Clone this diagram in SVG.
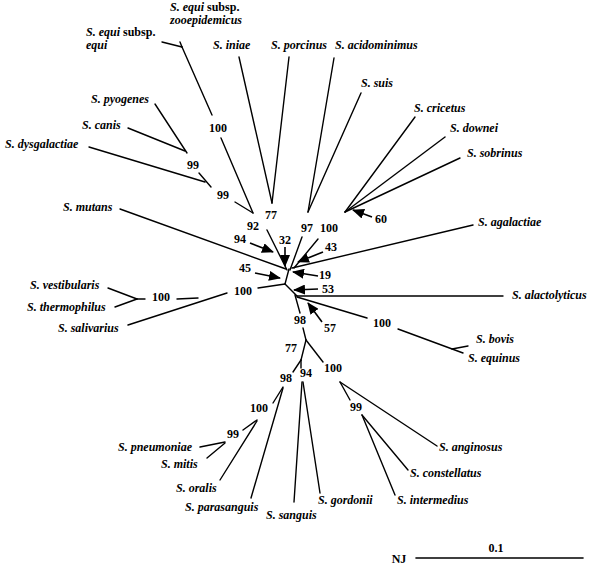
<svg xmlns="http://www.w3.org/2000/svg" width="595" height="574" viewBox="0 0 595 574">
<defs>
<style>
.t{font-family:"Liberation Serif","Times New Roman",serif;font-size:12px;font-weight:bold;font-style:italic;fill:#000}
.n{font-family:"Liberation Serif","Times New Roman",serif;font-size:12px;font-weight:bold;fill:#000;text-anchor:middle}
.r{font-style:normal}
.e line{stroke:#000;stroke-width:1.4;stroke-linecap:round}
.a line{stroke:#000;stroke-width:1.6;marker-end:url(#ah)}
</style>
<marker id="ah" markerUnits="userSpaceOnUse" markerWidth="12" markerHeight="10" viewBox="0 0 12 10" refX="11" refY="5" orient="auto">
<path d="M0,0 L12,5 L0,10 z" fill="#000"/>
</marker>
</defs>
<rect width="595" height="574" fill="#fff"/>
<g id="edges" class="e">
<line x1="180" y1="42" x2="182" y2="47"/>
<line x1="162" y1="42" x2="182" y2="47"/>
<line x1="182" y1="47" x2="212" y2="115"/>
<line x1="221" y1="138" x2="253" y2="213"/>
<line x1="155" y1="104" x2="187" y2="153"/>
<line x1="128" y1="128" x2="185" y2="151"/>
<line x1="199" y1="173" x2="211" y2="187"/>
<line x1="89" y1="147" x2="205" y2="182"/>
<line x1="235" y1="202" x2="253" y2="213"/>
<line x1="267" y1="230" x2="287" y2="270"/>
<line x1="239" y1="57" x2="272" y2="203"/>
<line x1="289" y1="57" x2="272" y2="203"/>
<line x1="120" y1="209" x2="286" y2="269"/>
<line x1="334" y1="58" x2="308" y2="212"/>
<line x1="361" y1="93" x2="308" y2="212"/>
<line x1="302" y1="237" x2="290" y2="270"/>
<line x1="415" y1="117" x2="345" y2="212"/>
<line x1="445" y1="137" x2="345" y2="212"/>
<line x1="460" y1="158" x2="345" y2="212"/>
<line x1="318" y1="239" x2="294" y2="268"/>
<line x1="292" y1="268" x2="473" y2="225"/>
<line x1="289" y1="269" x2="285" y2="284"/>
<line x1="258" y1="288" x2="285" y2="284"/>
<line x1="285" y1="284" x2="297" y2="296"/>
<line x1="297" y1="296" x2="503" y2="296"/>
<line x1="297" y1="297" x2="367" y2="318"/>
<line x1="398" y1="329" x2="463" y2="353"/>
<line x1="452" y1="349" x2="468" y2="346"/>
<line x1="295" y1="295" x2="300" y2="313"/>
<line x1="303" y1="328" x2="306" y2="340"/>
<line x1="306" y1="340" x2="323" y2="362"/>
<line x1="306" y1="340" x2="301" y2="360"/>
<line x1="301" y1="360" x2="293" y2="372"/>
<line x1="301" y1="360" x2="301" y2="368"/>
<line x1="283" y1="387" x2="273" y2="403"/>
<line x1="283" y1="388" x2="251" y2="498"/>
<line x1="257" y1="420" x2="243" y2="430"/>
<line x1="257" y1="421" x2="220" y2="480"/>
<line x1="200" y1="447" x2="225" y2="442"/>
<line x1="207" y1="458" x2="225" y2="443"/>
<line x1="302" y1="382" x2="294" y2="502"/>
<line x1="303" y1="382" x2="320" y2="493"/>
<line x1="340" y1="382" x2="437" y2="446"/>
<line x1="340" y1="382" x2="350" y2="400"/>
<line x1="362" y1="415" x2="408" y2="470"/>
<line x1="362" y1="415" x2="395" y2="495"/>
<line x1="108" y1="288" x2="137" y2="299"/>
<line x1="115" y1="307" x2="137" y2="299"/>
<line x1="137" y1="299" x2="145" y2="299"/>
<line x1="177" y1="299" x2="198" y2="298"/>
<line x1="128" y1="325" x2="227" y2="293"/>
<line x1="416" y1="558" x2="583" y2="558" style="stroke-width:1.6"/>
</g>
<g id="arrows" class="a">
<line x1="372" y1="217" x2="353" y2="210"/>
<line x1="250" y1="243" x2="273" y2="252"/>
<line x1="285" y1="247" x2="285" y2="266"/>
<line x1="323" y1="252" x2="298" y2="262"/>
<line x1="255" y1="273" x2="280" y2="278"/>
<line x1="318" y1="276" x2="293" y2="272"/>
<line x1="318" y1="289" x2="294" y2="290"/>
<line x1="322" y1="322" x2="308" y2="303"/>
</g>
<g id="taxa">
<text id="zooepidemicus" class="t" x="170" y="11">S. equi <tspan class="r">subsp.</tspan><tspan x="170" y="24">zooepidemicus</tspan></text>
<text id="equi" class="t" x="86" y="36">S. equi <tspan class="r">subsp.</tspan><tspan x="86" y="49">equi</tspan></text>
<text id="iniae" class="t" x="213" y="49">S. iniae</text>
<text id="porcinus" class="t" x="271" y="49">S. porcinus</text>
<text id="acidominimus" class="t" x="335" y="49">S. acidominimus</text>
<text id="suis" class="t" x="361" y="87">S. suis</text>
<text id="cricetus" class="t" x="414" y="112">S. cricetus</text>
<text id="downei" class="t" x="450" y="132">S. downei</text>
<text id="sobrinus" class="t" x="467" y="157">S. sobrinus</text>
<text id="pyogenes" class="t" x="91" y="103">S. pyogenes</text>
<text id="canis" class="t" x="82" y="129">S. canis</text>
<text id="dysgalactiae" class="t" x="5" y="148">S. dysgalactiae</text>
<text id="mutans" class="t" x="63" y="211">S. mutans</text>
<text id="agalactiae" class="t" x="478" y="226">S. agalactiae</text>
<text id="alactolyticus" class="t" x="512" y="299">S. alactolyticus</text>
<text id="bovis" class="t" x="476" y="343">S. bovis</text>
<text id="equinus" class="t" x="468" y="362">S. equinus</text>
<text id="vestibularis" class="t" x="30" y="289">S. vestibularis</text>
<text id="thermophilus" class="t" x="27" y="311">S. thermophilus</text>
<text id="salivarius" class="t" x="58" y="332">S. salivarius</text>
<text id="pneumoniae" class="t" x="118" y="451">S. pneumoniae</text>
<text id="mitis" class="t" x="161" y="468">S. mitis</text>
<text id="oralis" class="t" x="176" y="492">S. oralis</text>
<text id="parasanguis" class="t" x="185" y="511">S. parasanguis</text>
<text id="sanguis" class="t" x="266" y="519">S. sanguis</text>
<text id="gordonii" class="t" x="318" y="504">S. gordonii</text>
<text id="intermedius" class="t" x="397" y="504">S. intermedius</text>
<text id="constellatus" class="t" x="410" y="477">S. constellatus</text>
<text id="anginosus" class="t" x="439" y="451">S. anginosus</text>
</g>
<g id="bootstrap">
<text class="n" x="218" y="132">100</text>
<text class="n" x="193" y="169">99</text>
<text class="n" x="223" y="199">99</text>
<text class="n" x="253" y="230">92</text>
<text class="n" x="271" y="219">77</text>
<text class="n" x="307" y="232">97</text>
<text class="n" x="329" y="232">100</text>
<text class="n" x="240" y="243">94</text>
<text class="n" x="285" y="244">32</text>
<text class="n" x="331" y="251">43</text>
<text class="n" x="381" y="223">60</text>
<text class="n" x="245" y="272">45</text>
<text class="n" x="325" y="279">19</text>
<text class="n" x="328" y="293">53</text>
<text class="n" x="243" y="295">100</text>
<text class="n" x="161" y="301">100</text>
<text class="n" x="300" y="324">98</text>
<text class="n" x="330" y="332">57</text>
<text class="n" x="382" y="327">100</text>
<text class="n" x="291" y="352">77</text>
<text class="n" x="333" y="372">100</text>
<text class="n" x="286" y="382">98</text>
<text class="n" x="306" y="377">94</text>
<text class="n" x="259" y="412">100</text>
<text class="n" x="233" y="438">99</text>
<text class="n" x="356" y="411">99</text>
</g>
<g id="scale">
<text class="n" x="496" y="552">0.1</text>
<text class="n" x="399" y="563">NJ</text>
</g>
</svg>
